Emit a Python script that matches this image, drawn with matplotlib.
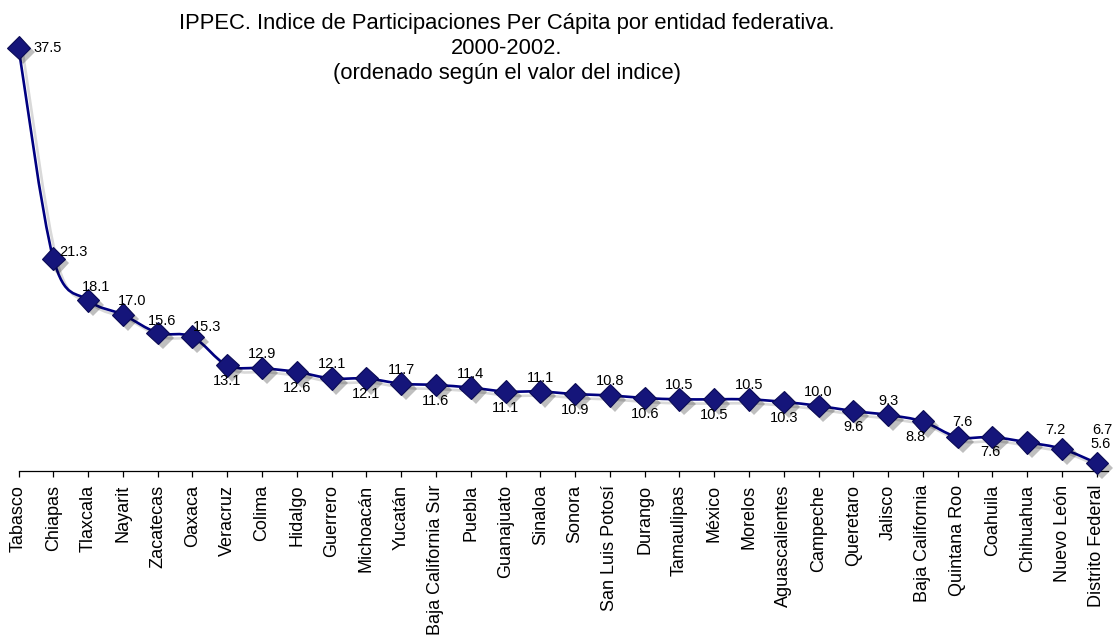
import numpy as np
import matplotlib
matplotlib.use('Agg')
import matplotlib.pyplot as plt
import matplotlib.patheffects as pe
from matplotlib.path import Path
from matplotlib.patches import PathPatch

plt.rcParams['font.family'] = ['Liberation Sans', 'DejaVu Sans']

estados = ['Tabasco', 'Chiapas', 'Tlaxcala', 'Nayarit', 'Zacatecas', 'Oaxaca',
           'Veracruz', 'Colima', 'Hidalgo', 'Guerrero', 'Michoacán', 'Yucatán',
           'Baja California Sur', 'Puebla', 'Guanajuato', 'Sinaloa', 'Sonora',
           'San Luis Potosí', 'Durango', 'Tamaulipas', 'México', 'Morelos',
           'Aguascalientes', 'Campeche', 'Queretaro', 'Jalisco', 'Baja California',
           'Quintana Roo', 'Coahuila', 'Chihuahua', 'Nuevo León', 'Distrito Federal']
indice = [37.5, 21.3, 18.1, 17.0, 15.6, 15.3, 13.1, 12.9, 12.6, 12.1, 12.1, 11.7,
          11.6, 11.4, 11.1, 11.1, 10.9, 10.8, 10.6, 10.5, 10.5, 10.5, 10.3, 10.0,
          9.6, 9.3, 8.8, 7.6, 7.6, 7.2, 6.7, 5.6]

titulo = ('IPPEC. Indice de Participaciones Per Cápita por entidad federativa.\n'
          '2000-2002.\n(ordenado según el valor del indice)')

navy = '#000080'

fig = plt.figure(figsize=(11.18, 6.38), dpi=100)
ax = fig.add_axes([0.0166, 0.2618, 0.9744, 0.7147])

x = np.arange(len(indice))
y = np.array(indice)

# smoothed line (catmull-rom as bezier segments, like excel's smoothing)
p = np.column_stack([x, y]).astype(float)
pp = np.vstack([p[0], p, p[-1]])
verts = [p[0]]
codes = [Path.MOVETO]
for i in range(len(p) - 1):
    p0, p1, p2, p3 = pp[i], pp[i + 1], pp[i + 2], pp[i + 3]
    verts += [p1 + (p2 - p0) / 6, p2 - (p3 - p1) / 6, p2]
    codes += [Path.CURVE4] * 3
linea = PathPatch(Path(verts, codes), fill=False, edgecolor=navy, lw=1.9,
                  zorder=2, clip_on=False,
                  path_effects=[pe.SimpleLineShadow(offset=(3, -3), shadow_color='k', alpha=0.15),
                                pe.Normal()])
ax.add_patch(linea)

ax.plot(x, y, ls='none', marker='D', ms=11.5, mfc='#15157a', mec='#0b0b55', mew=0.8,
        zorder=3, clip_on=False,
        path_effects=[pe.SimplePatchShadow(offset=(3.5, -3.5), shadow_rgbFace='k', alpha=0.25),
                      pe.Normal()])

# label offsets in pixels (dx, dy up)
offs = []
for i in range(len(indice)):
    if i >= 6:
        offs.append((0, -16) if i % 2 == 0 else (0, 14))
    else:
        offs.append((0, 14))
offs[0] = (15, 0)
offs[1] = (6, 7)
offs[2] = (8, 13)
offs[3] = (9, 14)
offs[4] = (4, 12)
offs[5] = (15, 10)
offs[26] = (-7, -16)
offs[27] = (5, 15)
offs[28] = (-2, -15)
offs[29] = (28, 12)
offs[30] = (40, 19)
offs[31] = (4, 19)

for i, v in enumerate(indice):
    dx, dy = offs[i]
    ha = 'left' if i < 2 else 'center'
    ax.annotate(f'{v:.1f}', (x[i], y[i]), xytext=(dx * 0.72, dy * 0.72),
                textcoords='offset points', ha=ha, va='center', fontsize=10.5,
                color='black', zorder=4, annotation_clip=False)

ax.set_xlim(0, 31.32)
ax.set_ylim(5, 40)
ax.set_xticks(x)
ax.set_xticklabels(estados, rotation=90, fontsize=13)
ax.tick_params(axis='x', direction='out', length=4, width=0.9, pad=6, color='black')
ax.set_yticks([])
for s in ['top', 'right', 'left']:
    ax.spines[s].set_visible(False)
ax.spines['bottom'].set_linewidth(0.9)
ax.patch.set_alpha(0)

fig.text(0.4535, 0.98, titulo, ha='center', va='top', fontsize=15.8,
         linespacing=1.25, multialignment='center')

fig.savefig('out.png', dpi=100)
